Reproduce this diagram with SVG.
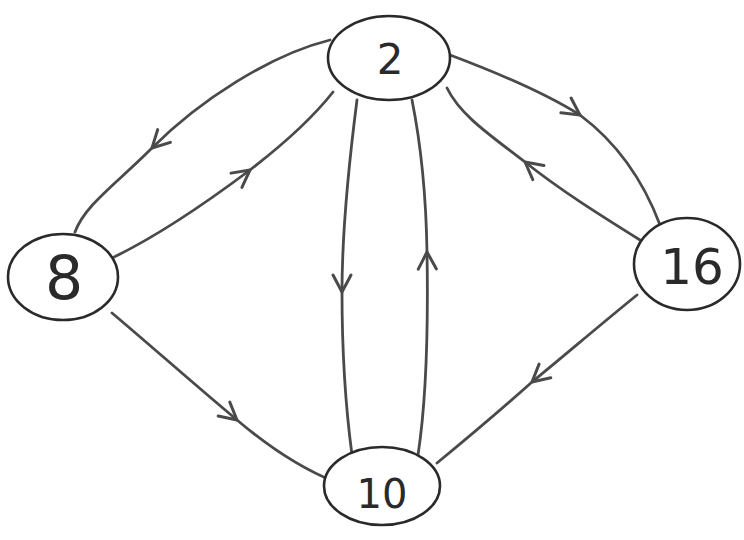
<svg xmlns="http://www.w3.org/2000/svg" width="744" height="540" viewBox="0 0 744 540">
<style>
.node ellipse{fill:#fff;stroke:#2a2a2a;stroke-width:2.6}
.node text{font-family:"DejaVu Sans","Liberation Sans",sans-serif;fill:#2a2a2a;text-anchor:middle}
.edge{fill:none;stroke:#4a4a4a;stroke-width:2.8;stroke-linecap:round;marker-mid:url(#ah)}
</style>
<defs>
<marker id="ah" markerUnits="userSpaceOnUse" markerWidth="40" markerHeight="40" viewBox="-20 -20 40 40" refX="0" refY="0" orient="auto" overflow="visible">
<path d="M -17 -9 L 0 0 L -17 9" fill="none" stroke="#4a4a4a" stroke-width="3" stroke-linecap="round" stroke-linejoin="round"/>
</marker>
</defs>
<rect width="744" height="540" fill="#fff"/>
<g id="connectors">
<path class="edge" d="M 330 40 C 270 55, 200 100, 152 148 C 115 185, 85 205, 75 232"/>
<path class="edge" d="M 112 258 C 160 235, 210 200, 250 170 C 285 143, 315 115, 333 92"/>
<path class="edge" d="M 357 100 C 348 170, 342 230, 342 292 C 342 360, 346 410, 352 455"/>
<path class="edge" d="M 418 455 C 428 390, 428 310, 427 252 C 426 190, 420 140, 412 100"/>
<path class="edge" d="M 450 55 C 490 70, 540 90, 580 115 C 620 145, 645 185, 660 225"/>
<path class="edge" d="M 640 240 C 600 215, 560 190, 525 162 C 490 135, 460 115, 447 88"/>
<path class="edge" d="M 112 313 C 150 345, 195 385, 237 420 C 270 448, 305 470, 335 482"/>
<path class="edge" d="M 637 295 C 600 325, 565 355, 532 382 C 495 415, 465 440, 437 463"/>
</g>
<g id="node-2" class="node">
<ellipse cx="389" cy="58" rx="61" ry="42"/>
<text x="390" y="74" font-size="42">2</text>
</g>
<g id="node-8" class="node">
<ellipse cx="63" cy="277" rx="55" ry="43"/>
<text x="64" y="299" font-size="60">8</text>
</g>
<g id="node-16" class="node">
<ellipse cx="687" cy="264" rx="53" ry="46"/>
<text x="692" y="284" font-size="50">16</text>
</g>
<g id="node-10" class="node">
<ellipse cx="382" cy="486" rx="58" ry="39"/>
<text x="382" y="508" font-size="40">10</text>
</g>
</svg>
